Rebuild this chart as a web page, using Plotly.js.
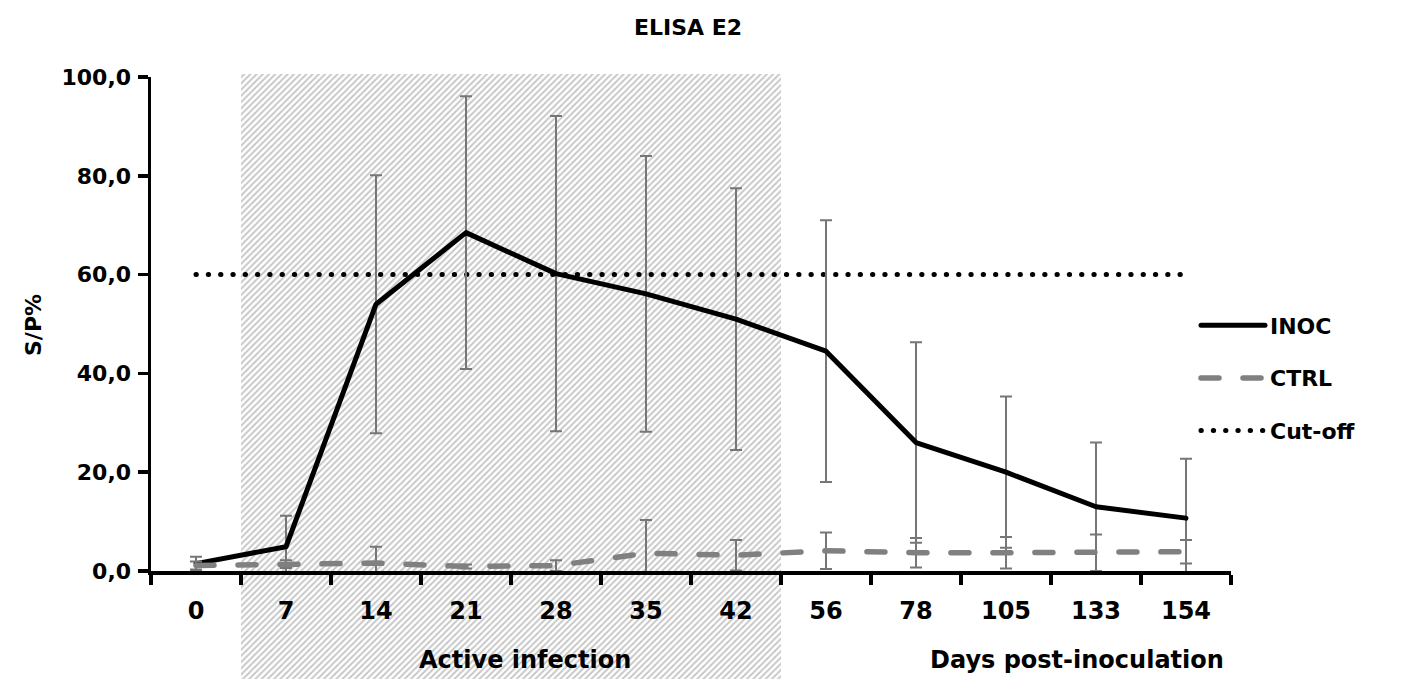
<!DOCTYPE html>
<html>
<head>
<meta charset="utf-8">
<script src="https://cdn.plot.ly/plotly-3.0.1.min.js"></script>
<style>
  html, body { margin: 0; padding: 0; background: #ffffff; }
  #chart { width: 1406px; height: 679px; }
  .js-line { stroke-linecap: round; stroke-linejoin: round; }
</style>
</head>
<body>
<div id="chart"></div>
<script>
// ---- data ----
const categories = ['0', '7', '14', '21', '28', '35', '42', '56', '78', '105', '133', '154'];
const inocMean = [1.5, 4.9, 54.0, 68.5, 60.2, 56.1, 51.0, 44.5, 26.0, 20.0, 13.0, 10.7];
const inocSD   = [1.4, 6.3, 26.1, 27.6, 31.9, 27.9, 26.5, 26.5, 20.3, 15.3, 13.0, 12.0];
const ctrlMean = [1.1, 1.4, 1.6, 0.9, 1.1, 3.6, 3.2, 4.1, 3.7, 3.7, 3.7, 3.9];
const ctrlSD   = [0.8, 0.8, 3.3, 0.4, 1.1, 6.7, 3.1, 3.7, 3.0, 3.2, 3.7, 2.4];
const cutoffValue = 60;
const activeStart = '7';
const activeEnd = '42';
const yTicks = [0, 20, 40, 60, 80, 100];

// ---- styles ----
const FONT = 'DejaVu Sans';
const W = 1406, H = 679;
const plotLeft = 151, plotRight = 1231, plotTop = 77, plotBottom = 571, shadeTop = 74;
const xDomain = [plotLeft / W, plotRight / W];

const iStart = categories.indexOf(activeStart) - 0.5;
const iEnd = categories.indexOf(activeEnd) + 0.5;

const shade = {
  type: 'bar', x: [(iStart + iEnd) / 2], y: [1], width: [iEnd - iStart],
  xaxis: 'x', yaxis: 'y', showlegend: false, hoverinfo: 'skip',
  marker: {
    color: '#ffffff', line: { width: 0 },
    pattern: { shape: '/', fgcolor: '#c6c6c6', bgcolor: '#ffffff', size: 4.4, solidity: 0.42 }
  }
};

const inoc = {
  type: 'scatter', mode: 'lines', name: 'INOC', x: categories, y: inocMean,
  xaxis: 'x2', yaxis: 'y2', legendrank: 1, legendgroup: 'a',
  line: { color: '#000000', width: 5 },
  error_y: { type: 'data', array: inocSD, visible: true, color: '#767676', thickness: 2, width: 6 }
};
const ctrl = {
  type: 'scatter', mode: 'lines', name: 'CTRL', x: categories, y: ctrlMean,
  xaxis: 'x2', yaxis: 'y2', legendrank: 2, legendgroup: 'b',
  line: { color: '#808080', width: 5.5, dash: '18px,24px' },
  error_y: { type: 'data', array: ctrlSD, visible: true, color: '#767676', thickness: 2, width: 6 }
};
const cutoff = {
  type: 'scatter', mode: 'lines', name: 'Cut-off', x: categories, y: categories.map(() => cutoffValue),
  xaxis: 'x2', yaxis: 'y2', legendrank: 3, legendgroup: 'c',
  line: { color: '#000000', width: 5, dash: '0.3px,12px' }
};

const yTickFont = { family: FONT, size: 22, color: '#000000', weight: 'bold' };
const xTickFont = { family: FONT, size: 24, color: '#000000', weight: 'bold' };
const labelFont = { family: FONT, size: 24, color: '#000000', weight: 'bold' };

const layout = {
  width: W, height: H,
  margin: { l: 0, r: 0, t: 0, b: 0, pad: 0 },
  paper_bgcolor: '#ffffff', plot_bgcolor: 'rgba(0,0,0,0)',
  separators: ',.',
  showlegend: true,
  bargap: 0,
  title: {
    text: 'ELISA E2', x: 688 / W, xanchor: 'center', y: 1 - 27 / H, yanchor: 'middle',
    font: { family: FONT, size: 22, color: '#000000', weight: 'bold' }
  },
  xaxis: { domain: xDomain, range: [-0.5, categories.length - 0.5], visible: false, fixedrange: true },
  yaxis: { domain: [0, (H - shadeTop) / H], range: [0, 1], visible: false, fixedrange: true },
  xaxis2: {
    domain: xDomain, anchor: 'y2', type: 'category', categoryorder: 'array', categoryarray: categories,
    range: [-0.5, categories.length - 0.5],
    showline: true, linecolor: '#000000', linewidth: 3.5,
    ticks: 'outside', tickson: 'boundaries', ticklen: 10, tickwidth: 3.5, tickcolor: '#000000',
    showgrid: false, zeroline: false, tickfont: xTickFont, ticklabelstandoff: 16, fixedrange: true
  },
  yaxis2: {
    domain: [(H - plotBottom) / H, (H - plotTop) / H], anchor: 'x2',
    range: [0, 100], tickvals: yTicks, tickformat: '.1f',
    showline: true, linecolor: '#000000', linewidth: 3.5,
    ticks: 'outside', ticklen: 10, tickwidth: 3.5, tickcolor: '#000000',
    showgrid: false, zeroline: false, tickfont: yTickFont, ticklabelstandoff: 2, fixedrange: true
  },
  legend: {
    x: 1196 / W, xanchor: 'left', y: 1 - 378 / H, yanchor: 'middle',
    font: { family: FONT, size: 22, color: '#000000', weight: 'bold' },
    bgcolor: 'rgba(0,0,0,0)', itemwidth: 64, tracegroupgap: 21, traceorder: 'grouped'
  },
  annotations: [
    { text: 'S/P%', xref: 'paper', yref: 'paper', x: 33 / W, y: 1 - 325 / H, textangle: -90,
      showarrow: false, xanchor: 'center', yanchor: 'middle',
      font: { family: FONT, size: 22, color: '#000000', weight: 'bold' } },
    { text: 'Active infection', xref: 'paper', yref: 'paper', x: 525 / W, y: 1 - 660 / H,
      showarrow: false, xanchor: 'center', yanchor: 'middle', font: labelFont },
    { text: 'Days post-inoculation', xref: 'paper', yref: 'paper', x: 1226 / W, y: 1 - 660 / H,
      showarrow: false, xanchor: 'right', yanchor: 'middle', font: labelFont }
  ]
};

Plotly.newPlot('chart', [shade, cutoff, inoc, ctrl], layout, { staticPlot: true, displayModeBar: false });
</script>
</body>
</html>
